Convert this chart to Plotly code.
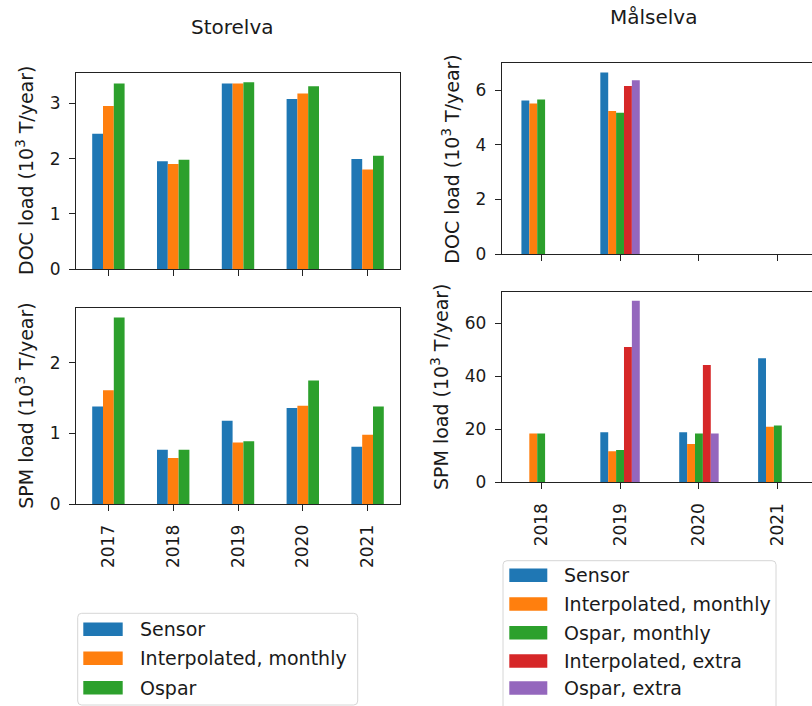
import plotly.graph_objects as go

# ---------------- data ----------------
years_storelva = ['2017', '2018', '2019', '2020', '2021']
doc_s_sensor = [2.45, 1.95, 3.36, 3.08, 1.99]
doc_s_interp = [2.95, 1.90, 3.36, 3.18, 1.80]
doc_s_ospar = [3.36, 1.98, 3.38, 3.31, 2.05]
spm_s_sensor = [1.38, 0.77, 1.18, 1.36, 0.81]
spm_s_interp = [1.61, 0.65, 0.87, 1.39, 0.98]
spm_s_ospar = [2.64, 0.77, 0.89, 1.75, 1.38]

years_malselva = ['2018', '2019', '2020', '2021']
doc_m_sensor = [5.63, 6.66, None, None]
doc_m_interp = [5.52, 5.24, None, None]
doc_m_ospar = [5.67, 5.18, None, None]
doc_m_interp_x = [None, 6.16, None, None]
doc_m_ospar_x = [None, 6.37, None, None]
spm_m_sensor = [None, 18.9, 18.9, 46.7]
spm_m_interp = [18.4, 11.7, 14.4, 20.9]
spm_m_ospar = [18.4, 12.2, 18.4, 21.4]
spm_m_interp_x = [None, 51.0, 44.2, None]
spm_m_ospar_x = [None, 68.4, 18.4, None]

names_storelva = ['Sensor', 'Interpolated, monthly', 'Ospar']
names_malselva = ['Sensor', 'Interpolated, monthly', 'Ospar, monthly',
                  'Interpolated, extra', 'Ospar, extra']
colors = ['#1f77b4', '#ff7f0e', '#2ca02c', '#d62728', '#9467bd']

# ---------------- helpers ----------------
W, H = 812, 706
FONT = 'DejaVu Sans'
TXT = '#1a1a1a'


def px(x):
    return x / W


def py(y):
    return 1 - y / H


fig = go.Figure()


def add_group(series, names, years, xa, ya):
    n = len(series)
    w = 0.5 / n
    for i, (vals, name) in enumerate(zip(series, names)):
        fig.add_trace(go.Bar(
            x=years, y=vals, name=name, xaxis=xa, yaxis=ya,
            width=w, offset=-0.25 + i * w,
            marker=dict(color=colors[i], line=dict(width=0)),
            showlegend=False,
        ))


add_group([doc_s_sensor, doc_s_interp, doc_s_ospar], names_storelva, years_storelva, 'x', 'y')
add_group([spm_s_sensor, spm_s_interp, spm_s_ospar], names_storelva, years_storelva, 'x2', 'y2')
add_group([doc_m_sensor, doc_m_interp, doc_m_ospar, doc_m_interp_x, doc_m_ospar_x],
          names_malselva, years_malselva, 'x3', 'y3')
add_group([spm_m_sensor, spm_m_interp, spm_m_ospar, spm_m_interp_x, spm_m_ospar_x],
          names_malselva, years_malselva, 'x4', 'y4')


def vmax(*lists):
    return max(v for l in lists for v in l if v is not None)


def xaxis(domain, rng, anchor, labels, years):
    return dict(domain=domain, range=rng, anchor=anchor, type='category',
                categoryorder='array', categoryarray=years,
                showticklabels=labels, tickangle=-90, ticklabelstandoff=7,
                ticks='outside', ticklen=6, tickwidth=1, tickcolor='#222',
                showline=True, linecolor='#222', linewidth=1, mirror=True,
                showgrid=False, zeroline=False, automargin=False,
                tickfont=dict(family=FONT, size=17, color=TXT))


def yaxis(domain, rng, anchor, tickvals, mirror=True):
    return dict(domain=domain, range=rng, anchor=anchor, tickvals=tickvals,
                ticks='outside', ticklen=6, tickwidth=1, tickcolor='#222',
                ticklabelstandoff=5,
                showline=True, linecolor='#222', linewidth=1, mirror=mirror,
                showgrid=False, zeroline=False, automargin=False,
                tickfont=dict(family=FONT, size=17, color=TXT))


left_x = [px(76), px(400)]
right_x = [px(501.7), 1.0]
right_range = [-0.5, 3.433]

layout = dict(
    template='none',
    width=W, height=H, margin=dict(l=0, r=0, t=0, b=0, pad=0),
    autosize=False, showlegend=False,
    paper_bgcolor='white', plot_bgcolor='white',
    font=dict(family=FONT, color=TXT),
    xaxis=xaxis(left_x, [-0.5, 4.5], 'y', False, years_storelva),
    yaxis=yaxis([py(269), py(73)], [0, 1.05 * vmax(doc_s_sensor, doc_s_interp, doc_s_ospar)], 'x', [0, 1, 2, 3]),
    xaxis2=xaxis(left_x, [-0.5, 4.5], 'y2', True, years_storelva),
    yaxis2=yaxis([py(504), py(308.3)], [0, 1.05 * vmax(spm_s_sensor, spm_s_interp, spm_s_ospar)], 'x2', [0, 1, 2]),
    xaxis3=xaxis(right_x, right_range, 'y3', False, years_malselva),
    yaxis3=yaxis([py(254), py(63.3)], [0, 1.05 * vmax(doc_m_sensor, doc_m_interp, doc_m_ospar, doc_m_interp_x, doc_m_ospar_x)], 'x3', [0, 2, 4, 6], mirror=False),
    xaxis4=xaxis(right_x, right_range, 'y4', True, years_malselva),
    yaxis4=yaxis([py(482.3), py(291.7)], [0, 1.05 * vmax(spm_m_sensor, spm_m_interp, spm_m_ospar, spm_m_interp_x, spm_m_ospar_x)], 'x4', [0, 20, 40, 60], mirror=False),
)
fig.update_layout(**layout)

annotations = []
# titles
annotations.append(dict(text='Storelva', x=px(232.7), y=py(27.3), xref='paper', yref='paper',
                        showarrow=False, xanchor='center', yanchor='middle',
                        font=dict(family=FONT, size=20, color=TXT)))
annotations.append(dict(text='Målselva', x=px(653), y=py(17.3), xref='paper', yref='paper',
                        showarrow=False, xanchor='center', yanchor='middle',
                        font=dict(family=FONT, size=20, color=TXT)))
# y-axis labels
doc_label = 'DOC load (10<sup>3</sup> T/year)'
spm_label = 'SPM load (10<sup>3</sup> T/year)'
for text, cx, cy in [(doc_label, 25, 171), (spm_label, 25, 405.8),
                     (doc_label, 450.7, 159), (spm_label, 440, 387)]:
    annotations.append(dict(text=text, x=px(cx), y=py(cy), xref='paper', yref='paper',
                            showarrow=False, xanchor='center', yanchor='middle', textangle=-90,
                            font=dict(family=FONT, size=19, color=TXT)))

shapes = []


def rounded_box(x0, y0, x1, y1, r=4):
    rx, ry = r / W, r / H
    X0, X1 = px(x0), px(x1)
    Yt, Yb = py(y0), py(y1)
    return ('M {a},{t} L {b},{t} Q {X1},{t} {X1},{t2} L {X1},{b2} Q {X1},{Yb} {b},{Yb} '
            'L {a},{Yb} Q {X0},{Yb} {X0},{b2} L {X0},{t2} Q {X0},{t} {a},{t} Z').format(
        a=X0 + rx, b=X1 - rx, t=Yt, t2=Yt - ry, b2=Yb + ry, X0=X0, X1=X1, Yb=Yb)


def legend(box, patch_x, text_x, rows, names):
    x0, y0, x1, y1 = box
    shapes.append(dict(type='path', xref='paper', yref='paper',
                       path=rounded_box(x0, y0, x1, y1),
                       line=dict(color='#d6d6d6', width=1), fillcolor='white', layer='above'))
    for i, (cy, name) in enumerate(zip(rows, names)):
        shapes.append(dict(type='rect', xref='paper', yref='paper',
                           x0=px(patch_x[0]), x1=px(patch_x[1]),
                           y0=py(cy + 6.8), y1=py(cy - 6.8),
                           line=dict(width=0), fillcolor=colors[i], layer='above'))
        annotations.append(dict(text=name, x=px(text_x), y=py(cy), xref='paper', yref='paper',
                                showarrow=False, xanchor='left', yanchor='middle',
                                font=dict(family=FONT, size=19, color=TXT)))


legend((77.7, 613.3, 357.7, 705), (83.3, 122.7), 137.5, [629.3, 658.3, 687.7], names_storelva)
legend((503, 560.7, 776, 712), (509.3, 547.3), 562, [575.3, 604, 632.7, 661, 688], names_malselva)

fig.update_layout(annotations=annotations, shapes=shapes)
fig.write_html('out.html')
